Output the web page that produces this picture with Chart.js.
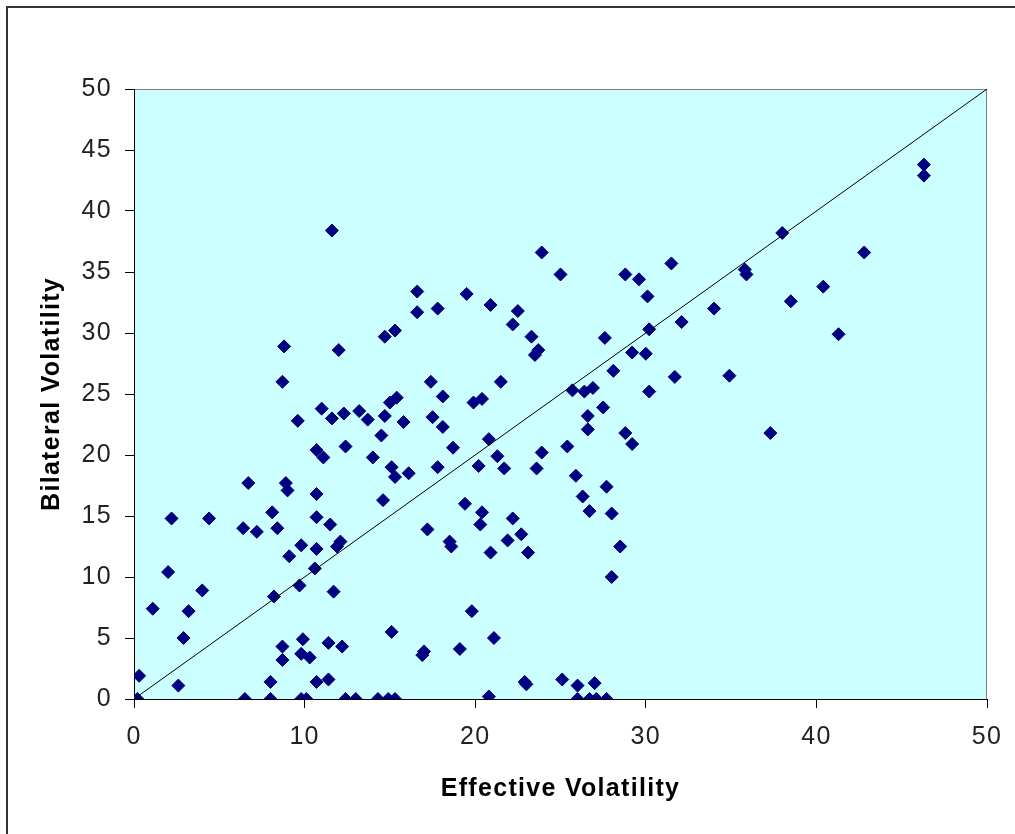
<!DOCTYPE html>
<html>
<head>
<meta charset="utf-8">
<script src="https://cdn.jsdelivr.net/npm/chart.js@4/dist/chart.umd.min.js"></script>
<style>
html,body{margin:0;padding:0;background:#fff;}
#wrap{width:1015px;height:834px;position:relative;}
</style>
</head>
<body>
<div id="wrap"><canvas id="c" width="1015" height="834"></canvas></div>
<script>
// Effective Volatility (x) and Bilateral Volatility (y)
const effectiveVol = [
 0.2,0.3,1.1,2.0,2.2,2.6,2.9,3.2,4.0,4.4,
 6.4,6.5,6.7,7.2,8.0,8.0,8.1,8.2,8.4,8.7,
 8.7,8.7,8.8,8.9,9.0,9.1,9.6,9.7,9.8,9.8,
 9.8,9.9,10.3,10.1,10.6,10.7,10.7,10.7,10.7,10.7,
 11.1,11.0,11.4,11.4,11.6,11.5,11.6,11.7,11.9,12.1,
 12.0,12.2,12.4,12.3,12.4,13.0,13.2,13.7,14.0,14.3,
 14.5,14.7,14.6,14.7,14.9,15.1,15.1,15.0,15.3,15.3,
 15.3,15.4,15.8,16.1,16.6,16.6,16.9,17.0,17.2,17.4,
 17.5,17.8,17.8,18.1,18.1,18.5,18.6,18.7,19.1,19.4,
 19.5,19.8,19.9,20.2,20.4,20.4,20.3,20.9,20.8,20.8,
 20.9,21.1,21.3,21.5,21.7,21.9,22.2,22.2,22.5,22.7,
 22.9,23.0,23.1,23.3,23.5,23.7,23.6,23.9,23.9,25.0,
 25.1,25.4,25.7,25.9,26.0,26.0,26.3,26.4,26.6,26.6,
 26.7,26.7,26.9,27.0,27.1,27.5,27.6,27.7,27.7,28.0,
 28.0,28.1,28.5,28.8,28.8,29.2,29.2,29.6,30.0,30.1,
 30.2,30.2,31.5,31.7,32.1,34.0,34.9,35.8,35.9,37.3,
 38.0,38.5,40.4,41.3,42.8,46.3,46.3
];
const bilateralVol = [
 0.0,1.9,7.4,10.4,14.8,1.1,5.0,7.2,8.9,14.8,
 14.0,0.0,17.7,13.7,1.4,0.0,15.3,8.4,14.0,4.3,
 3.2,26.0,28.9,17.7,17.1,11.7,22.8,9.3,12.6,3.7,
 0.0,4.9,3.4,0.0,10.7,12.3,16.8,14.9,20.4,1.4,
 19.8,23.8,1.6,4.6,38.4,14.3,23.0,8.8,12.5,12.9,
 28.6,4.3,0.0,23.4,20.7,0.0,23.6,22.9,19.8,0.0,
 21.6,29.7,16.3,23.2,0.0,5.5,19.0,24.3,0.0,18.2,
 30.2,24.7,22.7,18.5,31.7,33.4,3.6,3.9,13.9,26.0,
 23.1,32.0,19.0,22.3,24.8,12.9,12.5,20.6,4.1,16.0,
 33.2,7.2,24.3,19.1,24.6,15.3,14.3,32.3,0.2,21.3,
 12.0,5.0,19.9,26.0,18.9,13.0,14.8,30.7,31.8,13.5,
 1.4,1.2,12.0,29.7,28.2,28.6,18.9,36.6,20.2,34.8,
 1.6,20.7,25.3,18.3,1.1,0.0,16.6,25.2,23.2,22.1,
 15.4,0.0,25.5,1.3,0.0,23.9,29.6,0.0,17.4,10.0,
 15.2,26.9,12.5,34.8,21.8,20.9,28.4,34.4,28.3,33.0,
 30.3,25.2,35.7,26.4,30.9,32.0,26.5,35.2,34.8,21.8,
 38.2,32.6,33.8,29.9,36.6,43.8,42.9
];
// reference diagonal y = x
const diagX = [0, 50];
const diagY = [0, 50];

const xTitle = 'Effective Volatility';
const yTitle = 'Bilateral Volatility';

const points = effectiveVol.map((x, i) => ({x: x, y: bilateralVol[i]}));
const diag = diagX.map((x, i) => ({x: x, y: diagY[i]}));

const bgPlugin = {
  id: 'bg',
  beforeDraw(chart) {
    const ctx = chart.ctx, a = chart.chartArea;
    ctx.save();
    ctx.fillStyle = '#ffffff';
    ctx.fillRect(0, 0, chart.width, chart.height);
    // outer chart frame
    ctx.strokeStyle = '#333333';
    ctx.lineWidth = 2;
    ctx.beginPath();
    ctx.moveTo(7, chart.height + 2);
    ctx.lineTo(7, 7);
    ctx.lineTo(chart.width + 2, 7);
    ctx.stroke();
    // plot area
    ctx.fillStyle = '#CCFFFF';
    ctx.fillRect(a.left, a.top, a.right - a.left, a.bottom - a.top);
    ctx.strokeStyle = '#808080';
    ctx.lineWidth = 1;
    ctx.beginPath();
    ctx.moveTo(a.left, a.top + 0.5);
    ctx.lineTo(a.right - 0.5, a.top + 0.5);
    ctx.lineTo(a.right - 0.5, a.bottom);
    ctx.stroke();
    ctx.restore();
    // wider glyph spacing like the original rendering
    if ('letterSpacing' in ctx) ctx.letterSpacing = '1.3px';
  }
};

const tickFont = {family: "'Liberation Sans', Arial, sans-serif", size: 25};
const titleFont = {family: "'Liberation Sans', Arial, sans-serif", size: 25, weight: 'bold'};

new Chart(document.getElementById('c'), {
  type: 'scatter',
  data: {
    datasets: [
      {
        data: points,
        pointStyle: 'rectRot',
        pointRadius: 6.5,
        pointHoverRadius: 6.5,
        backgroundColor: '#000080',
        borderColor: '#000080',
        borderWidth: 1,
        order: 2
      },
      {
        type: 'line',
        data: diag,
        borderColor: '#000000',
        borderWidth: 1,
        pointRadius: 0,
        fill: false,
        order: 1
      }
    ]
  },
  options: {
    responsive: false,
    animation: false,
    events: [],
    layout: {padding: {top: 89, right: 28, left: 0, bottom: 0}},
    plugins: {legend: {display: false}, tooltip: {enabled: false}},
    scales: {
      x: {
        type: 'linear',
        min: 0, max: 50,
        ticks: {stepSize: 10, font: tickFont, color: '#222', padding: 14, maxRotation: 0},
        grid: {drawOnChartArea: false, drawTicks: true, tickLength: 9, color: '#000'},
        border: {display: true, color: '#000', width: 1},
        title: {display: true, text: xTitle, font: titleFont, color: '#000', padding: {top: 0, bottom: 30}},
        afterFit(scale) { scale.height = 135; }
      },
      y: {
        type: 'linear',
        min: 0, max: 50,
        ticks: {stepSize: 5, font: tickFont, color: '#222', padding: 13},
        grid: {drawOnChartArea: false, drawTicks: true, tickLength: 9, color: '#000'},
        border: {display: true, color: '#000', width: 1},
        title: {display: true, text: yTitle, font: titleFont, color: '#000', padding: {top: 37, bottom: 0}},
        afterFit(scale) { scale.width = 134; }
      }
    }
  },
  plugins: [bgPlugin]
});
</script>
</body>
</html>
